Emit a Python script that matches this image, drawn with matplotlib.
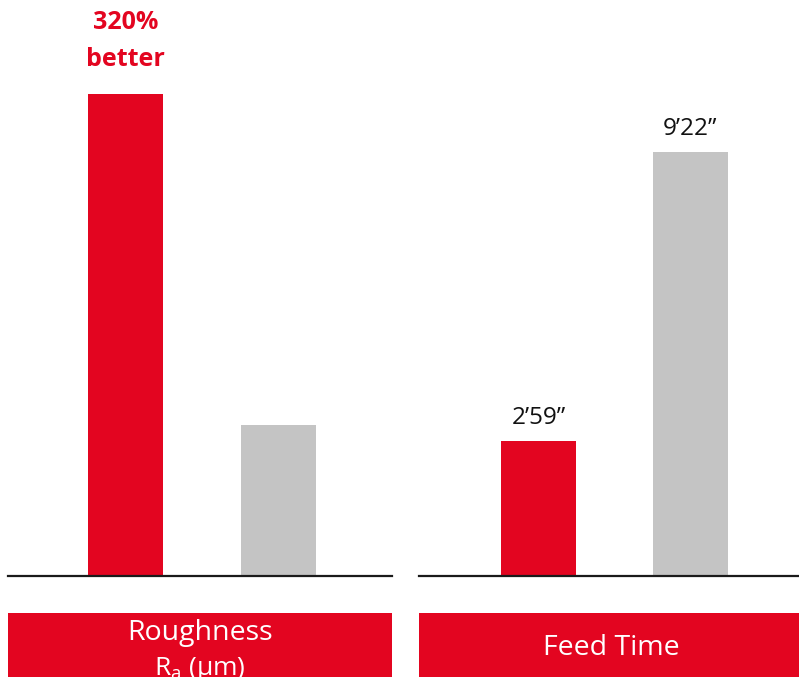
import matplotlib.pyplot as plt
from matplotlib.patches import Rectangle

plt.rcParams['font.family'] = ['Open Sans', 'DejaVu Sans']
plt.rcParams['mathtext.fontset'] = 'custom'
plt.rcParams['mathtext.rm'] = 'Open Sans'

RED = '#E30520'
GREY = '#C4C4C4'

rough_cats = ['new', 'old']
rough_vals = [3.2, 1.0]

feed_cats = ['new', 'old']
feed_secs = [179, 562]
feed_labels = ["2\u201959\u201d", "9\u201922\u201d"]

fig = plt.figure(figsize=(7.99, 6.77), dpi=100)
H = 677.0
W = 799.0
base = (H - 576) / H

axL = fig.add_axes([8 / W, base, 384 / W, 1 - base])
axR = fig.add_axes([419 / W, base, 380 / W, 1 - base])

axL.bar(range(len(rough_cats)), rough_vals, width=0.49, color=[RED, GREY])
axL.set_xlim(-0.768, 1.742)
axL.set_ylim(0, 3.824)

axR.bar(range(len(feed_cats)), feed_secs, width=0.49, color=[RED, GREY])
axR.set_xlim(-0.786, 1.714)
axR.set_ylim(0, 763.5)

for ax in (axL, axR):
    ax.axhline(0, color='#1a1a1a', lw=1.6, clip_on=False, zorder=3)
    for s in ax.spines.values():
        s.set_visible(False)
    ax.set_xticks([])
    ax.set_yticks([])
    ax.patch.set_alpha(0)

# annotation on roughness bar
axL.annotate('320%', xy=(0, rough_vals[0]), xytext=(0, 71 * 0.72), textcoords='offset points',
             ha='center', va='center', color=RED, fontsize=18, fontweight='bold')
axL.annotate('better', xy=(0, rough_vals[0]), xytext=(0, 34 * 0.72), textcoords='offset points',
             ha='center', va='center', color=RED, fontsize=18, fontweight='bold')

for i, (v, lab) in enumerate(zip(feed_secs, feed_labels)):
    axR.annotate(lab, xy=(i, v), xytext=(0, 23 * 0.72), textcoords='offset points',
                 ha='center', va='center', color='#111111', fontsize=17.5)

# red label boxes
box_h = (677 - 613) / H
fig.patches.append(Rectangle((8 / W, 0), 384 / W, box_h, transform=fig.transFigure,
                             facecolor=RED, edgecolor='none'))
fig.patches.append(Rectangle((419 / W, 0), 380 / W, box_h, transform=fig.transFigure,
                             facecolor=RED, edgecolor='none'))

fig.text(200 / W, (H - 633) / H, 'Roughness', color='white', fontsize=20.5, ha='center', va='center')
fig.text(200 / W, (H - 669) / H, '$\\mathregular{R_a}$ (\u00b5m)',
         color='white', fontsize=19, ha='center', va='center')
fig.text(611 / W, (H - 648) / H, 'Feed Time', color='white', fontsize=20.5, ha='center', va='center')

fig.savefig('out.png', dpi=100)
